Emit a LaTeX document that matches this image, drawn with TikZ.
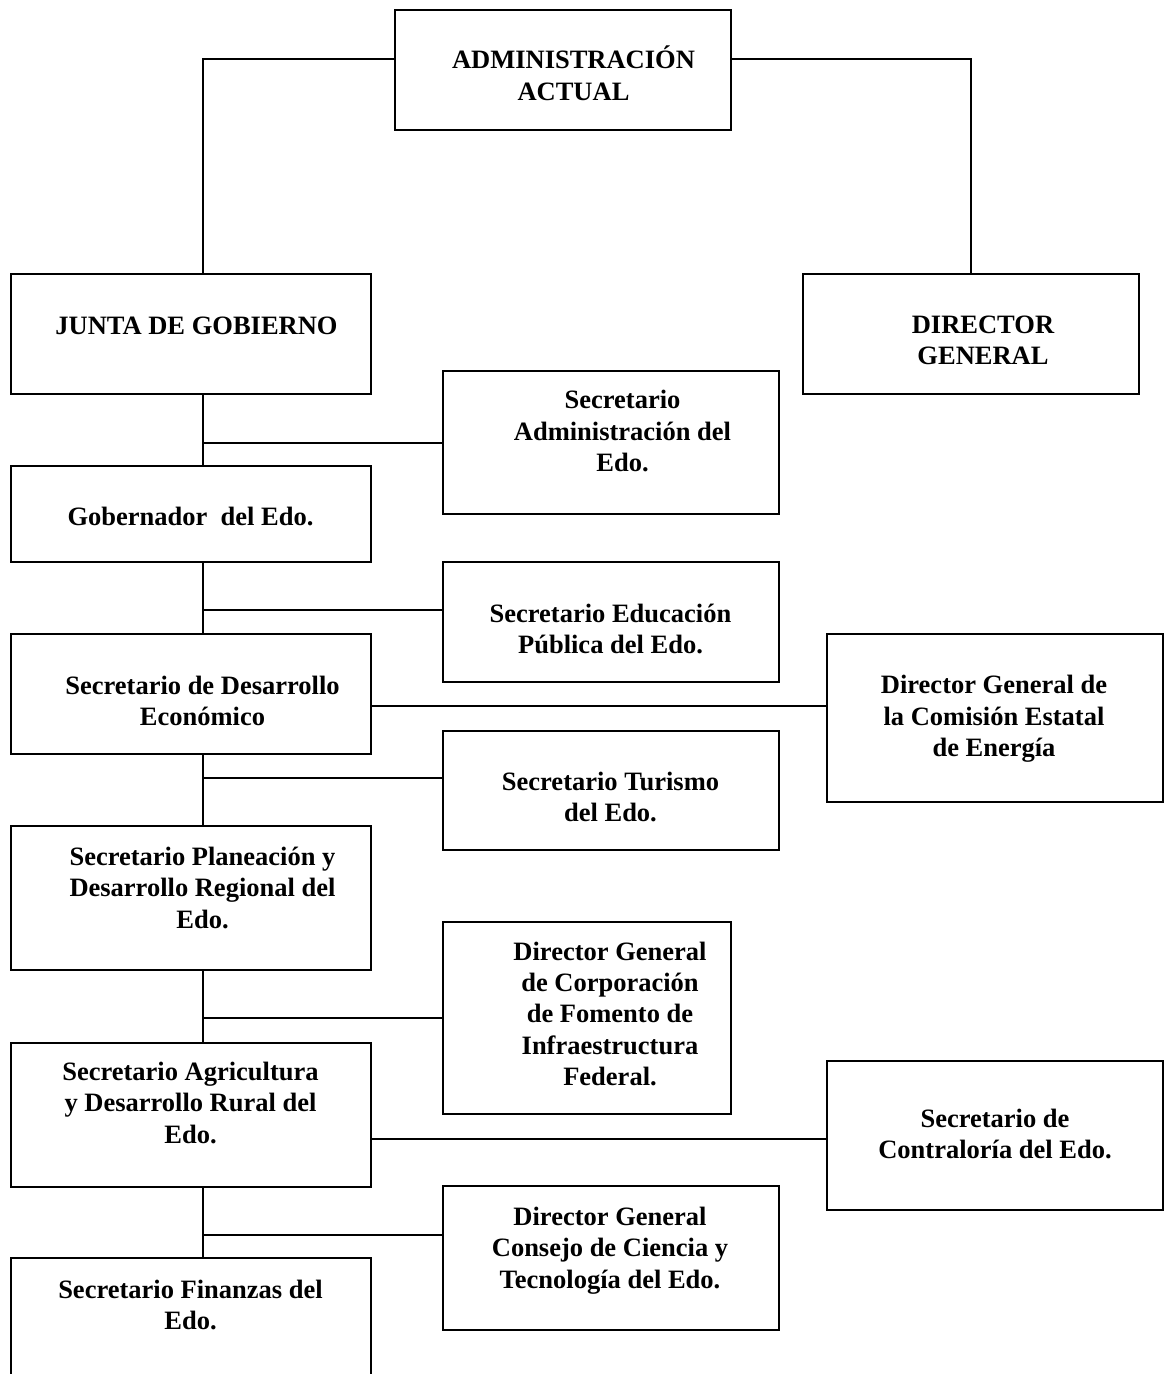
\documentclass[tikz,border=0pt]{standalone}
\usepackage{fontspec}
\setmainfont{Liberation Serif}

\begin{document}
\begin{tikzpicture}[x=1pt, y=-1pt,
  box/.style={draw, line width=2pt, inner sep=0pt},
  lbl/.style={align=center, inner sep=0pt,
    font=\bfseries\fontsize{26.5}{31.3}\selectfont,
    execute at begin node={\rule{0pt}{26pt}},
    execute at end node={\rule[-8pt]{0pt}{8pt}}},
  link/.style={line width=2pt}]
\useasboundingbox (0,0) rectangle (1165,1374);
%
% boxes
\node[box, minimum width=336pt, minimum height=119.5pt] (admin) at (563,69.75) {};
\node[box, minimum width=360pt, minimum height=119.5pt] (junta) at (191,333.75) {};
\node[box, minimum width=336pt, minimum height=120pt] (dirgen) at (971,334) {};
\node[box, minimum width=336pt, minimum height=143pt] (secadm) at (611,442.5) {};
\node[box, minimum width=360pt, minimum height=95.5pt] (gob) at (191,513.75) {};
\node[box, minimum width=336pt, minimum height=120pt] (secedu) at (611,622) {};
\node[box, minimum width=360pt, minimum height=120pt] (secdes) at (191,694) {};
\node[box, minimum width=336pt, minimum height=168pt] (comision) at (995,718) {};
\node[box, minimum width=336pt, minimum height=119.5pt] (sectur) at (611,790.25) {};
\node[box, minimum width=360pt, minimum height=144pt] (secplan) at (191,898) {};
\node[box, minimum width=288.5pt, minimum height=192pt] (corp) at (586.75,1018) {};
\node[box, minimum width=360pt, minimum height=144pt] (secagr) at (191,1114.5) {};
\node[box, minimum width=336pt, minimum height=149pt] (contral) at (995,1135.5) {};
\node[box, minimum width=336pt, minimum height=144pt] (consejo) at (611,1258) {};
\node[box, minimum width=360pt, minimum height=160pt] (secfin) at (191,1338) {};
%
% texts
\node[lbl] (admin-t) at (573.5,77) {ADMINISTRACIÓN\\ACTUAL};
\node[lbl] (junta-t) at (196.5,325) {JUNTA DE GOBIERNO};
\node[lbl] (dirgen-t) at (983,344.5) {DIRECTOR\\GENERAL};
\node[lbl] (secadm-t) at (622.5,435) {Secretario\\Administración del\\Edo.};
\node[lbl] (gob-t) at (190.5,516) {Gobernador\ \ del Edo.};
\node[lbl] (secedu-t) at (610.5,632.5) {Secretario Educación\\Pública del Edo.};
\node[lbl] (secdes-t) at (202.5,705) {Secretario de Desarrollo\\Económico};
\node[lbl] (comision-t) at (994,720) {Director General de\\la Comisión Estatal\\de Energía};
\node[lbl] (sectur-t) at (610.5,801) {Secretario Turismo\\del Edo.};
\node[lbl] (secplan-t) at (202.5,891.5) {Secretario Planeación y\\Desarrollo Regional del\\Edo.};
\node[lbl] (corp-t) at (610,1017.5) {Director General\\de Corporación\\de Fomento de\\Infraestructura\\Federal.};
\node[lbl] (secagr-t) at (190.5,1106.5) {Secretario Agricultura\\y Desarrollo Rural del\\Edo.};
\node[lbl] (contral-t) at (995,1137.5) {Secretario de\\Contraloría del Edo.};
\node[lbl] (consejo-t) at (610,1251.5) {Director General\\Consejo de Ciencia y\\Tecnología del Edo.};
\node[lbl] (secfin-t) at (190.5,1308.5) {Secretario Finanzas del\\Edo.};
%
% lines
\coordinate (trunk) at (203,0);
\draw[link] ([yshift=10.5pt]admin.west) -| (trunk |- junta.north);
\draw[link] ([yshift=10.5pt]admin.east) -| (dirgen.north);
%
\draw[link] (trunk |- junta.south) -- (trunk |- gob.north);
\draw[link] (secadm.west) -- (secadm.west -| trunk);
\draw[link] (trunk |- gob.south) -- (trunk |- secdes.north);
\draw[link] ([yshift=12pt]secedu.west) -- ([yshift=12pt]secedu.west -| trunk);
\draw[link] (trunk |- secdes.south) -- (trunk |- secplan.north);
\draw[link] ([yshift=12.5pt]sectur.west) -- ([yshift=12.5pt]sectur.west -| trunk);
\draw[link] ([yshift=12.5pt]comision.west) -- ([yshift=12.5pt]comision.west -| secdes.east);
\draw[link] (trunk |- secplan.south) -- (trunk |- secagr.north);
\draw[link] (corp.west) -- (corp.west -| trunk);
\draw[link] ([yshift=-3pt]contral.west) -- ([yshift=-3pt]contral.west -| secagr.east);
\draw[link] (trunk |- secagr.south) -- (trunk |- secfin.north);
\draw[link] ([yshift=23pt]consejo.west) -- ([yshift=23pt]consejo.west -| trunk);
\end{tikzpicture}
\end{document}
